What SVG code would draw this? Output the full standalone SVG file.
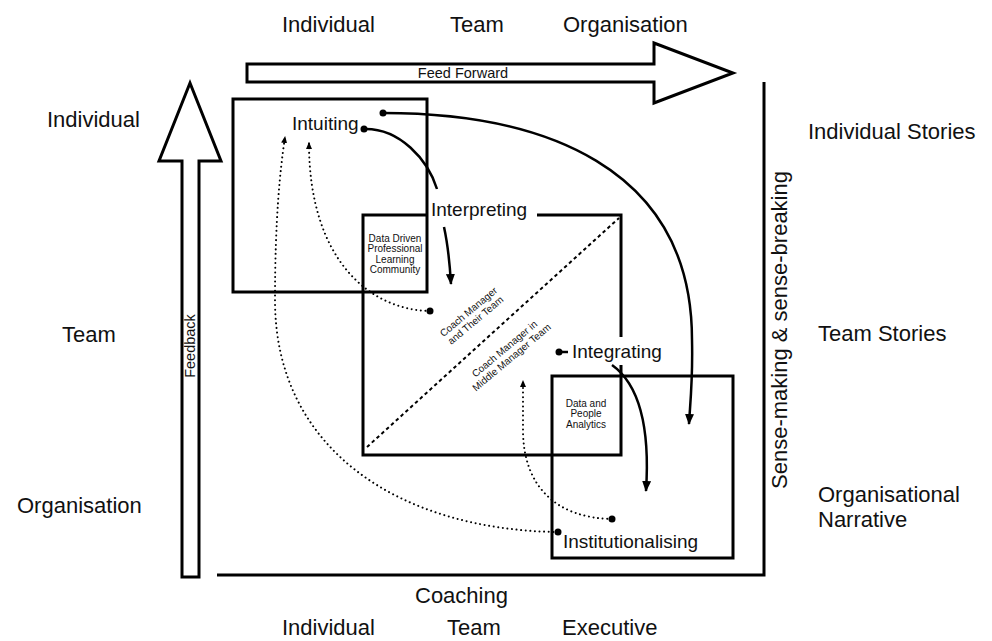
<svg xmlns="http://www.w3.org/2000/svg" width="992" height="641" viewBox="0 0 992 641">
<defs>
<style>
.lbl{font-family:"Liberation Sans",Arial,Helvetica,sans-serif;font-size:22px;fill:#111}
.in{font-family:"Liberation Sans",Arial,Helvetica,sans-serif;font-size:19px;fill:#111}
.sm{font-family:"Liberation Sans",Arial,Helvetica,sans-serif;font-size:10px;fill:#111;text-anchor:middle}
.ar{font-family:"Liberation Sans",Arial,Helvetica,sans-serif;font-size:14.5px;fill:#111;text-anchor:middle}
.box{fill:none;stroke:#000;stroke-width:3}
.big{fill:#fff;stroke:#000;stroke-width:3;stroke-linejoin:miter}
.sol{fill:none;stroke:#000;stroke-width:2.5}
.dot{fill:none;stroke:#000;stroke-width:2;stroke-linecap:round;stroke-dasharray:0.01 4.6}
.dash{fill:none;stroke:#000;stroke-width:2;stroke-dasharray:3.5 3}
</style>
<marker id="ah" markerUnits="userSpaceOnUse" markerWidth="11" markerHeight="9" refX="10" refY="4.5" orient="auto">
<path d="M0,0 L11,4.5 L0,9 z" fill="#000"/>
</marker>
<marker id="ahs" markerUnits="userSpaceOnUse" markerWidth="7" markerHeight="6" refX="6" refY="3" orient="auto">
<path d="M0,0 L7,3 L0,6 z" fill="#000"/>
</marker>
</defs>
<rect width="992" height="641" fill="#fff"/>

<g id="axis-labels">
<text class="lbl" x="282" y="32">Individual</text>
<text class="lbl" x="450" y="32">Team</text>
<text class="lbl" x="563" y="32">Organisation</text>
<text class="lbl" x="47" y="127">Individual</text>
<text class="lbl" x="62" y="342">Team</text>
<text class="lbl" x="17" y="513">Organisation</text>
<text class="lbl" x="808" y="139">Individual Stories</text>
<text class="lbl" x="818" y="341">Team Stories</text>
<text class="lbl" x="818" y="502">Organisational</text>
<text class="lbl" x="818" y="527">Narrative</text>
<text class="lbl" x="415" y="603">Coaching</text>
<text class="lbl" x="282" y="635">Individual</text>
<text class="lbl" x="447" y="635">Team</text>
<text class="lbl" x="562" y="635">Executive</text>
</g>

<g id="feed-forward">
<polygon class="big" points="247,64 654,64 654,43 733,73 654,103 654,82 247,82"/>
<text class="ar" x="463" y="78">Feed Forward</text>
</g>

<g id="feedback">
<polygon class="big" points="182,577 182,161 159,161 190,83 221,161 199,161 199,577"/>
<text class="ar" transform="translate(195,346) rotate(-90)">Feedback</text>
</g>

<g id="sense-making">
<path class="box" d="M764,82 V575 H217"/>
<text class="lbl" text-anchor="middle" transform="translate(787,330) rotate(-90)">Sense-making &amp; sense-breaking</text>
</g>

<g id="box-individual">
<rect class="box" x="233" y="99" width="194" height="193"/>
<text class="in" x="292" y="130">Intuiting</text>
</g>

<g id="box-team">
<path class="box" d="M537,215 H621 V337 M621,365 V455 H363 V215 H427"/>
<path class="dash" d="M367,447 L619,218"/>
<text class="in" x="431" y="216">Interpreting</text>
<g transform="translate(472,316) rotate(-40)">
<text class="sm" x="0" y="-2">Coach Manager</text>
<text class="sm" x="0" y="9">and Their Team</text>
</g>
<g transform="translate(508,353) rotate(-40)">
<text class="sm" x="0" y="-2">Coach Manager in</text>
<text class="sm" x="0" y="9">Middle Manager Team</text>
</g>
</g>

<g id="box-organisation">
<rect class="box" x="552" y="376" width="181" height="182"/>
<text class="in" x="572" y="358">Integrating</text>
<text class="in" x="563" y="548">Institutionalising</text>
</g>

<g id="overlap-ddplc">
<text class="sm" x="395" y="241.5">Data Driven</text>
<text class="sm" x="395" y="252">Professional</text>
<text class="sm" x="395" y="262.5">Learning</text>
<text class="sm" x="395" y="273">Community</text>
</g>

<g id="overlap-dpa">
<text class="sm" x="586" y="406.5">Data and</text>
<text class="sm" x="586" y="417">People</text>
<text class="sm" x="586" y="427.5">Analytics</text>
</g>

<g id="connectors">
<path class="sol" d="M383,113 C540,113 692,165 692,340 C693,380 690,405 689,424" marker-end="url(#ah)"/>
<path class="sol" d="M364,129 C400,128 428,160 437,189 M444,227 Q449,250 451,284" marker-end="url(#ah)"/>
<path class="sol" d="M559,352 H568"/>
<path class="sol" d="M612,365 C640,385 650,430 646,491" marker-end="url(#ah)"/>
<path class="dot" d="M558,532 C400,530 275,450 275,300 C275,220 280,170 285,137" marker-end="url(#ahs)"/>
<path class="dot" d="M430,311 C370,310 309,260 309,143" marker-end="url(#ahs)"/>
<path class="dot" d="M612,519 C555,518 523,485 523,430 L523,381" marker-end="url(#ahs)"/>
<circle cx="383" cy="113" r="3.5"/>
<circle cx="364" cy="129" r="3.5"/>
<circle cx="559" cy="352" r="3.5"/>
<circle cx="430" cy="311" r="3.5"/>
<circle cx="558" cy="532" r="3.5"/>
<circle cx="612" cy="519" r="3.5"/>
</g>
</svg>
